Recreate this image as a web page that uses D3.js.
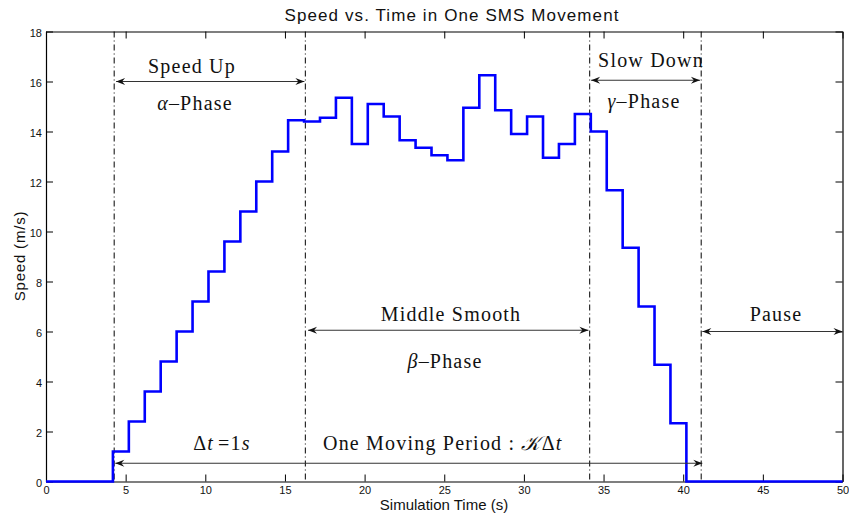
<!DOCTYPE html>
<html>
<head>
<meta charset="utf-8">
<script src="https://cdn.jsdelivr.net/npm/d3@7"></script>
<style>
  html, body { margin: 0; padding: 0; background: #fff; }
  svg { display: block; }
  .serif { font-family: "Liberation Serif", "Times New Roman", serif; font-size: 20px; letter-spacing: 1.2px; fill: #111; }
</style>
</head>
<body>
<svg id="chart" width="849" height="514"></svg>
<script>
// ---- data ----
const stepTimes = [4.2, 5.2, 6.2, 7.2, 8.2, 9.2, 10.2, 11.2, 12.2, 13.2, 14.2, 15.2,
                   16.2, 17.2, 18.2, 19.2, 20.2, 21.2, 22.2, 23.2, 24.2, 25.2, 26.2, 27.2,
                   28.2, 29.2, 30.2, 31.2, 32.2, 33.2, 34.2, 35.2, 36.2, 37.2, 38.2, 39.2];
const speeds = [1.2, 2.4, 3.6, 4.8, 6.0, 7.2, 8.4, 9.6, 10.8, 12.0, 13.2, 14.45,
                14.4, 14.55, 15.35, 13.5, 15.1, 14.6, 13.65, 13.35, 13.05, 12.85, 14.95, 16.25,
                14.85, 13.9, 14.6, 12.95, 13.5, 14.7, 14.0, 11.65, 9.35, 7.0, 4.67, 2.33];
const moveEnd = 40.2;
const simStart = 0, simEnd = 50;
const xTicks = [0, 5, 10, 15, 20, 25, 30, 35, 40, 45, 50];
const yTicks = [0, 2, 4, 6, 8, 10, 12, 14, 16, 18];
const phaseBounds = [4.28, 16.28, 34.13, 41.13];
const arrows = [
  { x1: 4.4, x2: 16.22, y: 16 },
  { x1: 16.45, x2: 34.05, y: 6.05 },
  { x1: 34.22, x2: 41.05, y: 16.05 },
  { x1: 41.2, x2: 50, y: 6 },
  { x1: 4.35, x2: 41.2, y: 0.73 }
];
const title = "Speed vs. Time in One SMS Movement";
const xLabel = "Simulation Time (s)";
const yLabel = "Speed (m/s)";

// ---- layout ----
const svg = d3.select("#chart");
const x = d3.scaleLinear().domain([0, 50]).range([46, 842.5]);
const y = d3.scaleLinear().domain([0, 18]).range([481.5, 31.5]);
const sans = "'Liberation Sans', Arial, sans-serif";

// arrowhead marker
const defs = svg.append("defs");
defs.append("marker")
  .attr("id", "ah")
  .attr("markerUnits", "userSpaceOnUse")
  .attr("viewBox", "-10 -5 11 10")
  .attr("refX", 0).attr("refY", 0)
  .attr("markerWidth", 11).attr("markerHeight", 10)
  .attr("orient", "auto-start-reverse")
  .append("path")
  .attr("d", "M0,0 L-9,-3.6 L-6,0 L-9,3.6 Z")
  .attr("fill", "#111");

// axes (box with inward ticks on all sides)
const tickLen = 7;
const axB = svg.append("g").attr("transform", `translate(0,${y(0)})`)
  .call(d3.axisBottom(x).tickValues(xTicks).tickSizeInner(-tickLen).tickSizeOuter(0).tickPadding(5));
const axT = svg.append("g").attr("transform", `translate(0,${y(18)})`)
  .call(d3.axisTop(x).tickValues(xTicks).tickSizeInner(-tickLen).tickSizeOuter(0).tickFormat(""));
const axL = svg.append("g").attr("transform", `translate(${x(0)},0)`)
  .call(d3.axisLeft(y).tickValues(yTicks).tickSizeInner(-tickLen).tickSizeOuter(0).tickPadding(4));
const axR = svg.append("g").attr("transform", `translate(${x(50)},0)`)
  .call(d3.axisRight(y).tickValues(yTicks).tickSizeInner(-tickLen).tickSizeOuter(0).tickFormat(""));
[axB, axT, axL, axR].forEach(g => {
  g.select(".domain").attr("stroke", "#000").attr("stroke-width", 1.2);
  g.selectAll(".tick line").attr("stroke", "#000").attr("stroke-width", 1);
  g.selectAll(".tick text").attr("font-family", sans).attr("font-size", 11).attr("fill", "#111");
});
axL.selectAll(".tick text").attr("dy", "0.45em");

// phase boundary lines
svg.append("g").selectAll("line").data(phaseBounds).join("line")
  .attr("x1", d => x(d)).attr("x2", d => x(d))
  .attr("y1", y(18)).attr("y2", y(0))
  .attr("stroke", "#000").attr("stroke-width", 1)
  .attr("stroke-dasharray", "6,3,1,3");

// step line
const pts = [[simStart, 0]].concat(stepTimes.map((t, i) => [t, speeds[i]]), [[moveEnd, 0], [simEnd, 0]]);
svg.append("path")
  .datum(pts)
  .attr("fill", "none")
  .attr("stroke", "#0000ff")
  .attr("stroke-width", 2.6)
  .attr("stroke-linejoin", "miter")
  .attr("d", d3.line().x(d => x(d[0])).y(d => y(d[1])).curve(d3.curveStepAfter));

// arrows
svg.append("g").selectAll("line").data(arrows).join("line")
  .attr("x1", d => x(d.x1)).attr("x2", d => x(d.x2))
  .attr("y1", d => y(d.y)).attr("y2", d => y(d.y))
  .attr("stroke", "#333").attr("stroke-width", 1.2)
  .attr("marker-start", "url(#ah)").attr("marker-end", "url(#ah)");

// serif annotation texts
function phaseText(cx, by, greek) {
  const t = svg.append("text").attr("class", "serif").attr("x", cx).attr("y", by).attr("text-anchor", "middle");
  t.append("tspan").attr("font-style", "italic").text(greek);
  t.append("tspan").text("\u2013Phase");
}
svg.append("text").attr("class", "serif").attr("x", 192).attr("y", 73).attr("text-anchor", "middle").text("Speed Up");
phaseText(195, 110, "\u03b1");
svg.append("text").attr("class", "serif").attr("x", 651).attr("y", 67).attr("text-anchor", "middle").text("Slow Down");
phaseText(644, 108, "\u03b3");
svg.append("text").attr("class", "serif").attr("x", 451).attr("y", 321).attr("text-anchor", "middle").text("Middle Smooth");
phaseText(445, 368, "\u03b2");
svg.append("text").attr("class", "serif").attr("x", 776).attr("y", 321).attr("text-anchor", "middle").text("Pause");

const dt = svg.append("text").attr("class", "serif").attr("x", 222).attr("y", 450).attr("text-anchor", "middle");
dt.append("tspan").text("\u0394");
dt.append("tspan").attr("font-style", "italic").text("t");
dt.append("tspan").attr("dx", 4).text("=1");
dt.append("tspan").attr("font-style", "italic").text("s");

const mp = svg.append("text").attr("class", "serif").attr("x", 323).attr("y", 450).attr("text-anchor", "start");
mp.append("tspan").text("One Moving Period : ");
mp.append("tspan").attr("font-style", "italic").text("\ud835\udca6");
mp.append("tspan").text("\u0394");
mp.append("tspan").attr("font-style", "italic").text("t");

// title & axis labels
svg.append("text").attr("x", 452).attr("y", 21).attr("text-anchor", "middle")
  .attr("font-family", sans).attr("font-size", 17).attr("letter-spacing", 1.1).attr("fill", "#111").text(title);
svg.append("text").attr("x", 444).attr("y", 510).attr("text-anchor", "middle")
  .attr("font-family", sans).attr("font-size", 15).attr("fill", "#111").text(xLabel);
svg.append("text").attr("transform", `translate(25,256) rotate(-90)`).attr("text-anchor", "middle")
  .attr("font-family", sans).attr("font-size", 15).attr("letter-spacing", 0.8).attr("fill", "#111").text(yLabel);
</script>
</body>
</html>
